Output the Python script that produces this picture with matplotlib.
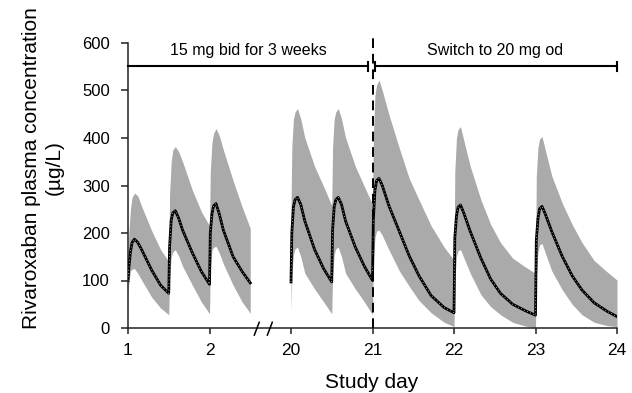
import numpy as np
import matplotlib
matplotlib.use("Agg")
import matplotlib.pyplot as plt

plt.rcParams['font.family'] = ['Liberation Sans', 'DejaVu Sans']

# ---------------- data ----------------
# Segment 1: days 1 - 2.5 (15 mg bid)
seg1_day = [1.00, 1.01, 1.03, 1.05, 1.08, 1.12, 1.17, 1.29, 1.40,
            1.50, 1.51, 1.53, 1.55, 1.58, 1.62, 1.67, 1.79, 1.90,
            2.00, 2.01, 2.03, 2.05, 2.08, 2.12, 2.17, 2.29, 2.40, 2.50]
seg1_mean = [100, 125, 160, 180, 187, 180, 164, 122, 90,
             73, 170, 227, 242, 247, 232, 206, 158, 119,
             92, 200, 240, 257, 262, 240, 206, 150, 119, 95]
seg1_upper = [140, 200, 250, 275, 284, 278, 255, 205, 165,
              140, 280, 350, 375, 382, 372, 350, 290, 245,
              215, 330, 390, 410, 420, 405, 375, 310, 255, 210]
seg1_lower = [72, 95, 120, 124, 125, 115, 100, 65, 42,
              28, 110, 150, 160, 165, 152, 130, 90, 55,
              30, 120, 165, 170, 172, 158, 135, 90, 55, 31]

# Segment 2: days 20 - 24 (15 mg bid, then 20 mg od from day 21)
seg2_day = [20.00, 20.01, 20.03, 20.05, 20.08, 20.12, 20.17, 20.29, 20.40,
            20.50, 20.51, 20.53, 20.55, 20.58, 20.62, 20.67, 20.79, 20.90,
            21.00, 21.01, 21.03, 21.05, 21.08, 21.12, 21.20, 21.33, 21.45, 21.57, 21.72, 21.88,
            22.00, 22.01, 22.03, 22.05, 22.08, 22.12, 22.20, 22.33, 22.45, 22.57, 22.72, 22.88,
            23.00, 23.01, 23.03, 23.05, 23.08, 23.12, 23.20, 23.33, 23.45, 23.57, 23.72, 23.88,
            24.00]
seg2_mean = [97, 200, 255, 270, 275, 260, 225, 165, 125,
             97, 206, 255, 270, 275, 260, 225, 170, 130,
             100, 227, 290, 310, 315, 300, 258, 203, 152, 110, 68, 43,
             32, 190, 235, 254, 259, 242, 203, 147, 103, 73, 50, 36,
             27, 185, 230, 251, 256, 240, 203, 150, 110, 80, 53, 35,
             24]
seg2_upper = [250, 380, 440, 455, 462, 440, 400, 340, 298,
              258, 380, 440, 455, 462, 440, 400, 340, 298,
              260, 400, 490, 512, 522, 500, 450, 378, 315, 270, 215, 170,
              143, 330, 400, 418, 424, 395, 340, 270, 218, 180, 147, 128,
              115, 320, 380, 398, 403, 375, 320, 262, 218, 180, 142, 118,
              101]
seg2_lower = [31, 110, 155, 167, 170, 150, 115, 82, 55,
              30, 110, 155, 167, 170, 150, 115, 82, 55,
              28, 140, 190, 204, 206, 195, 165, 120, 88, 58, 32, 12,
              3, 100, 150, 163, 165, 148, 115, 70, 45, 28, 12, 4,
              0, 110, 160, 175, 178, 158, 120, 80, 50, 28, 12, 5,
              3]

tick_days = [1, 2, 20, 21, 22, 23, 24]
tick_labels = ['1', '2', '20', '21', '22', '23', '24']
y_ticks = [0, 100, 200, 300, 400, 500, 600]

label_bid = '15 mg bid for 3 weeks'
label_od = 'Switch to 20 mg od'
switch_day = 21

# ---------------- broken-axis mapping ----------------
GAP = 17.0  # days 20..24 are drawn right after day 2.5 (+ small gap)


def to_x(days):
    d = np.asarray(days, dtype=float)
    return np.where(d < 10, d, d - GAP)


fig = plt.figure(figsize=(6.32, 3.93), dpi=100)
ax = fig.add_axes([128 / 632, 1 - 328 / 393, 489 / 632, 285 / 393])

band_color = '#aaaaaa'
for days, mean, lo, up in [(seg1_day, seg1_mean, seg1_lower, seg1_upper),
                           (seg2_day, seg2_mean, seg2_lower, seg2_upper)]:
    x = to_x(days)
    ax.fill_between(x, lo, up, color=band_color, linewidth=0, zorder=1)
    ax.plot(x, mean, color='black', lw=2.0, zorder=3, solid_joinstyle='round')
    ax.plot(x, mean, color='white', lw=0.6, linestyle=(0, (0.8, 3.2)), zorder=4)

# vertical dashed switch line
xs = float(to_x(switch_day))
ax.plot([xs, xs], [0, 617], color='black', lw=1.4, linestyle=(0, (5, 3)),
        clip_on=False, zorder=5)

# treatment bars
bar_y = 551
x_left0 = float(to_x(1))
x_left1 = float(to_x(switch_day - 0.05))
x_right0 = float(to_x(switch_day + 0.03))
x_right1 = float(to_x(24))
ax.plot([x_left0, x_left1], [bar_y, bar_y], color='black', lw=1.5, zorder=6, clip_on=False)
ax.plot([x_right0, x_right1], [bar_y, bar_y], color='black', lw=1.5, zorder=6, clip_on=False)
for xc in [x_left1, x_right0, x_right1]:
    ax.plot([xc, xc], [bar_y - 9, bar_y + 9], color='black', lw=1.5, zorder=6, clip_on=False)

ax.text((x_left0 + x_left1) / 2, 585, label_bid, ha='center', va='center', fontsize=11.5)
ax.text(float(to_x(22.5)), 585, label_od, ha='center', va='center', fontsize=11.5)

# axes styling
ax.set_xlim(float(to_x(1)), float(to_x(24)))
ax.set_ylim(0, 600)
ax.set_xticks(to_x(tick_days))
ax.set_xticklabels(tick_labels)
ax.set_yticks(y_ticks)
for s in ['top', 'right']:
    ax.spines[s].set_visible(False)
for s in ['left', 'bottom']:
    ax.spines[s].set_linewidth(1.1)
    ax.spines[s].set_color('#222222')
ax.tick_params(axis='x', direction='out', length=4.5, width=1.1, pad=6, labelsize=12.5, colors='#222222', labelcolor='black')
ax.tick_params(axis='y', direction='out', length=5, width=1.1, pad=8, labelsize=12, colors='#222222', labelcolor='black')

# axis break marks
xb1 = 2.58
xb2 = 2.74
for xb in [xb1, xb2]:
    ax.plot([xb - 0.03, xb + 0.03], [-15, 12], color='black', lw=1.1, clip_on=False, zorder=7)

fig.text(43 / 632, 1 - 168 / 393, 'Rivaroxaban plasma concentration\n(µg/L)',
         rotation=90, ha='center', va='center', fontsize=15, linespacing=1.25)
fig.text(372 / 632, 1 - 382 / 393, 'Study day', ha='center', va='center', fontsize=15)

fig.savefig('out.png', dpi=100)
